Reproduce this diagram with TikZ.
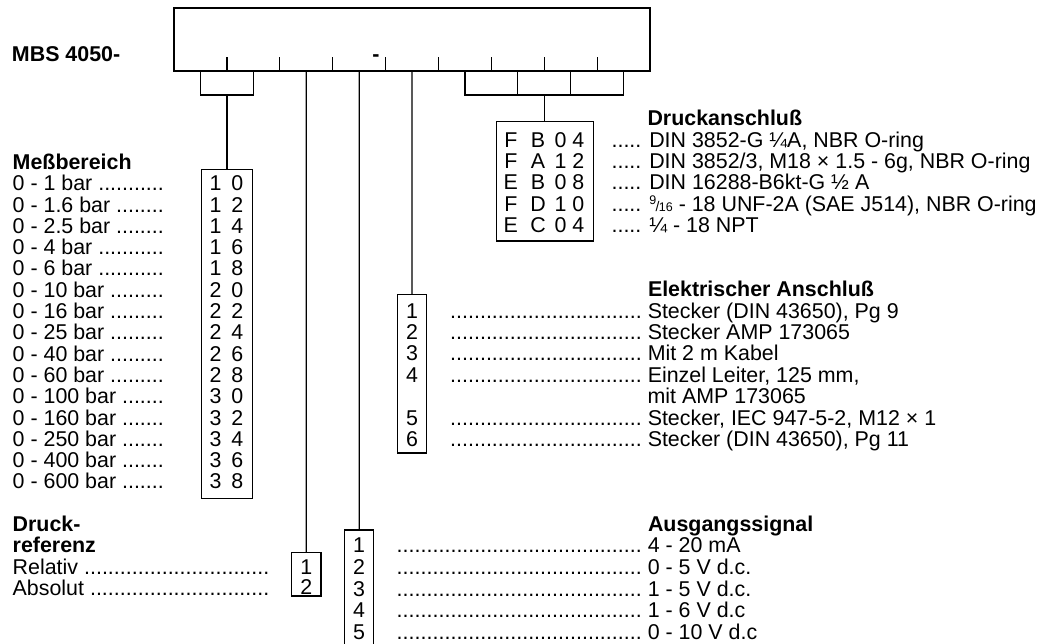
\documentclass[tikz,border=0pt]{standalone}
\usepackage{fontspec}
\setmainfont{Liberation Sans}
\usetikzlibrary{calc}
\newcommand\fs{\fontsize{21.4}{21.4}\selectfont}
\newcommand\ldr[1]{\hbox to #1{\xleaders\hbox{.}\hfill}}
\newcommand\lbl[2]{\makebox[#1][l]{#2 \xleaders\hbox{.}\hfill}}
\newcommand\ninesixteen{\raisebox{0.32em}{\fontsize{12.5}{12.5}\selectfont 9}\kern-0.6pt{\fontsize{14}{14}\selectfont /}\kern-0.6pt{\fontsize{12.5}{12.5}\selectfont 16}}
\tikzset{
  every node/.style={inner sep=0pt, outer sep=0pt, font=\fs},
  ln/.style={line width=1.2pt, black},
  frame/.style={draw, line width=1.2pt, anchor=north, inner sep=0pt, outer sep=0pt},
  lt/.style={anchor=base west},
  ctr/.style={anchor=base},
  hd/.style={anchor=base west, font=\fs\bfseries},
}
\begin{document}
\begin{tikzpicture}[x=1pt,y=-1pt]
\useasboundingbox (0,0) rectangle (1052,643);
% code box
\node[frame, anchor=north west, minimum width=476pt, minimum height=63pt] (code) at (174,8) {};
\node[hd] (mbs) at (12,61) {MBS 4050-};
\node[ctr, font=\fs\bfseries] (dash) at (376,61) {-};
\foreach \k in {1,...,8} \draw[ln] ($(code.south west)+(52.9*\k,0)$) -- ++(0,-14);
\foreach \k in {1,...,9} \coordinate (c\k) at ($(code.south west)+(52.9*\k-26.45,0)$);
\coordinate (b1) at ($(code.south west)+(52.9,24)$);
\coordinate (b2) at ($(code.south west)+(7*52.9,24)$);
% boxes
\node[frame, minimum width=51.6pt, minimum height=329pt] (mb) at (226.9,169.3) {};
\node[frame, minimum width=29.3pt, minimum height=43.3pt] (dr) at (306.25,552.7) {};
\node[frame, minimum width=29pt, minimum height=125pt] (as) at (359.15,530) {};
\node[frame, minimum width=28.4pt, minimum height=158.7pt] (el) at (412.05,294.3) {};
\node[frame, minimum width=97pt, minimum height=119.3pt] (da) at (544.8,121.7) {};
% connectors
\draw[ln] (c1) -- ++(0,24) -| (c2);
\draw[ln] (b1) -- (mb.north);
\draw[ln] (c3) -- (dr.north);
\draw[ln] (c4) -- (as.north);
\draw[ln] (c5) -- (el.north);
\draw[ln] (c6) -- ++(0,24) -| (c9);
\draw[ln] (c7) -- ++(0,24);
\draw[ln] (c8) -- ++(0,24);
\draw[ln] (b2) -- (b2 |- da.north);
% Messbereich
\node[hd] (mbt) at (12.7,169.3) {Meßbereich};
\foreach \t/\p/\q [count=\i from 0] in {0 - 1 bar/1/0, 0 - 1.6 bar/1/2, 0 - 2.5 bar/1/4, 0 - 4 bar/1/6, 0 - 6 bar/1/8, 0 - 10 bar/2/0, 0 - 16 bar/2/2, 0 - 25 bar/2/4, 0 - 40 bar/2/6, 0 - 60 bar/2/8, 0 - 100 bar/3/0, 0 - 160 bar/3/2, 0 - 250 bar/3/4, 0 - 400 bar/3/6, 0 - 600 bar/3/8}{
  \node[lt] (mr\i) at (12.7,190.7+21.3*\i) {\lbl{151.1pt}{\t}};
  \node[ctr] (mp\i) at (215.5,190.7+21.3*\i) {\p};
  \node[ctr] (mq\i) at (237.3,190.7+21.3*\i) {\q};
}
% Druckreferenz
\node[hd] (drt1) at (12.7,531.5) {Druck-};
\node[hd] (drt2) at (12.7,552.9) {referenz};
\node[lt] (dr1) at (12.7,574.7) {\lbl{256.6pt}{Relativ}};
\node[lt] (dr2) at (12.7,595.7) {\lbl{256.6pt}{Absolut}};
\node[ctr] (drc1) at (306.25,574) {1};
\node[ctr] (drc2) at (306.25,594.3) {2};
% Ausgangssignal
\node[hd] (ast) at (648,531.3) {Ausgangssignal};
\foreach \t [count=\i from 1] in {4 - 20 mA, 0 - 5 V d.c., 1 - 5 V d.c., 1 - 6 V d.c, 0 - 10 V d.c}{
  \node[lt] (ar\i) at (396.7,531.3+21.6*\i) {\ldr{245pt}\ \t};
  \node[ctr] (ac\i) at (359.15,531.3+21.6*\i) {\i};
}
% Elektrischer Anschluss
\node[hd] (elt) at (648,296.7) {Elektrischer Anschluß};
\node[lt] (er1) at (450,318.1) {\ldr{191.7pt}\ Stecker (DIN 43650), Pg 9};
\node[lt] (er2) at (450,339.5) {\ldr{191.7pt}\ Stecker AMP 173065};
\node[lt] (er3) at (450,360.9) {\ldr{191.7pt}\ Mit 2 m Kabel};
\node[lt] (er4) at (450,382.3) {\ldr{191.7pt}\ Einzel Leiter, 125 mm,};
\node[lt] (er4b) at (647.65,403.7) {mit AMP 173065};
\node[lt] (er5) at (450,425.1) {\ldr{191.7pt}\ Stecker, IEC 947-5-2, M12 × 1};
\node[lt] (er6) at (450,446.5) {\ldr{191.7pt}\ Stecker (DIN 43650), Pg 11};
\node[ctr] (ec1) at (412.05,318.1) {1};
\node[ctr] (ec2) at (412.05,339.5) {2};
\node[ctr] (ec3) at (412.05,360.9) {3};
\node[ctr] (ec4) at (412.05,382.3) {4};
\node[ctr] (ec5) at (412.05,425.1) {5};
\node[ctr] (ec6) at (412.05,446.5) {6};
% Druckanschluss
\node[hd] (dat) at (647.5,125.6) {Druckanschluß};
\node[lt] (dar1) at (611.6,147) {..... DIN 3852-G ¼A, NBR O-ring};
\node[lt] (dar2) at (611.6,168.4) {..... DIN 3852/3, M18 × 1.5 - 6g, NBR O-ring};
\node[lt] (dar3) at (611.6,189.8) {..... DIN 16288-B6kt-G ½ A};
\node[lt] (dar4) at (611.6,211.2) {..... \ninesixteen\ - 18 UNF-2A (SAE J514), NBR O-ring};
\node[lt] (dar5) at (611.6,232.6) {..... ¼ - 18 NPT};
\foreach \a/\b/\c/\d [count=\i from 0] in {F/B/0/4, F/A/1/2, E/B/0/8, F/D/1/0, E/C/0/4}{
  \node[ctr] (dl\i a) at (510.8,147+21.4*\i) {\a};
  \node[ctr] (dl\i b) at (538,147+21.4*\i) {\b};
  \node[ctr] (dl\i c) at (560.5,147+21.4*\i) {\c};
  \node[ctr] (dl\i d) at (578.3,147+21.4*\i) {\d};
}
\end{tikzpicture}
\end{document}
